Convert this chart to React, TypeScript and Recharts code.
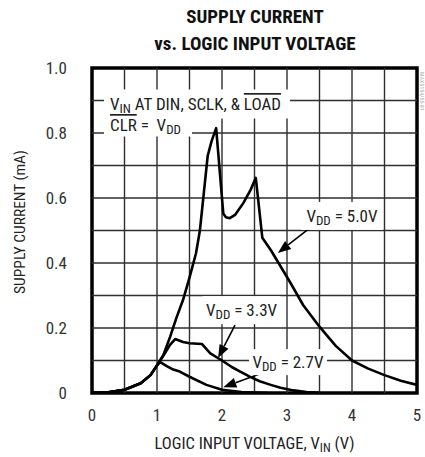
import React from 'react';
import {
  LineChart,
  Line,
  XAxis,
  YAxis,
  ReferenceLine,
  ReferenceArea,
  ReferenceDot,
} from 'recharts';

const FONT = "'Liberation Sans Narrow', 'Arial Narrow', 'Roboto Condensed', sans-serif";

// ---- data ----
const xTicks = [0, 1, 2, 3, 4, 5];
const yTicks = [0, 0.2, 0.4, 0.6, 0.8, 1.0];
const xGrid = [0.5, 1, 1.5, 2, 2.5, 3, 3.5, 4, 4.5];
const yGrid = [0.1, 0.2, 0.3, 0.4, 0.5, 0.6, 0.7, 0.8, 0.9];

const vdd50 = [
  { v: 0, i: 0 },
  { v: 0.25, i: 0.002 },
  { v: 0.5, i: 0.01 },
  { v: 0.75, i: 0.03 },
  { v: 0.9, i: 0.055 },
  { v: 1.0, i: 0.085 },
  { v: 1.1, i: 0.118 },
  { v: 1.2, i: 0.172 },
  { v: 1.3, i: 0.232 },
  { v: 1.4, i: 0.286 },
  { v: 1.5, i: 0.355 },
  { v: 1.6, i: 0.43 },
  { v: 1.66, i: 0.5 },
  { v: 1.72, i: 0.615 },
  { v: 1.78, i: 0.73 },
  { v: 1.84, i: 0.775 },
  { v: 1.91, i: 0.815 },
  { v: 2.02, i: 0.552 },
  { v: 2.06, i: 0.541 },
  { v: 2.12, i: 0.538 },
  { v: 2.2, i: 0.548 },
  { v: 2.33, i: 0.585 },
  { v: 2.44, i: 0.625 },
  { v: 2.52, i: 0.662 },
  { v: 2.62, i: 0.478 },
  { v: 2.75, i: 0.44 },
  { v: 2.9, i: 0.39 },
  { v: 3.05, i: 0.34 },
  { v: 3.25, i: 0.27 },
  { v: 3.5, i: 0.204 },
  { v: 3.75, i: 0.145 },
  { v: 4.0, i: 0.1 },
  { v: 4.25, i: 0.075 },
  { v: 4.5, i: 0.055 },
  { v: 4.75, i: 0.038 },
  { v: 5.0, i: 0.025 },
];

const vdd33 = [
  { v: 0, i: 0 },
  { v: 0.25, i: 0.002 },
  { v: 0.5, i: 0.01 },
  { v: 0.75, i: 0.03 },
  { v: 0.9, i: 0.055 },
  { v: 1.0, i: 0.085 },
  { v: 1.1, i: 0.115 },
  { v: 1.2, i: 0.148 },
  { v: 1.28, i: 0.166 },
  { v: 1.4, i: 0.157 },
  { v: 1.5, i: 0.153 },
  { v: 1.69, i: 0.151 },
  { v: 1.82, i: 0.122 },
  { v: 2.0, i: 0.1 },
  { v: 2.15, i: 0.08 },
  { v: 2.28, i: 0.066 },
  { v: 2.45, i: 0.048 },
  { v: 2.58, i: 0.036 },
  { v: 2.75, i: 0.025 },
  { v: 2.9, i: 0.016 },
  { v: 3.1, i: 0.008 },
  { v: 3.3, i: 0.003 },
  { v: 3.5, i: 0.001 },
];

const vdd27 = [
  { v: 0, i: 0 },
  { v: 0.25, i: 0.002 },
  { v: 0.5, i: 0.01 },
  { v: 0.75, i: 0.03 },
  { v: 0.9, i: 0.055 },
  { v: 1.0, i: 0.085 },
  { v: 1.05, i: 0.095 },
  { v: 1.15, i: 0.083 },
  { v: 1.25, i: 0.072 },
  { v: 1.35, i: 0.066 },
  { v: 1.5, i: 0.05 },
  { v: 1.76, i: 0.025 },
  { v: 2.0, i: 0.01 },
  { v: 2.3, i: 0.003 },
  { v: 2.7, i: 0.0 },
];

// annotation anchors (data coordinates)
const label50 = { v: 3.846, i: 0.545 };
const label33 = { v: 2.3, i: 0.255 };
const label27 = { v: 3.015, i: 0.095 };
const labelTop = { v: 0.277, i: 0.9 };
const arrow50 = [{ x: 3.354, y: 0.508 }, { x: 2.86, y: 0.431 }];
const arrow33 = [{ x: 2.2, y: 0.209 }, { x: 1.94, y: 0.108 }];
const arrow27 = [{ x: 2.63, y: 0.062 }, { x: 2.02, y: 0.018 }];

const GRID = '#2e2e2e';

const Arrow = (p: any) => {
  const { x1, y1, x2, y2 } = p;
  if ([x1, y1, x2, y2].some((n) => typeof n !== 'number' || isNaN(n))) return null;
  const dx = x2 - x1;
  const dy = y2 - y1;
  const len = Math.sqrt(dx * dx + dy * dy);
  const ux = dx / len;
  const uy = dy / len;
  const hl = 13;
  const hw = 5;
  const bx = x2 - ux * hl;
  const by = y2 - uy * hl;
  const pts = `${x2},${y2} ${bx - uy * hw},${by + ux * hw} ${bx + uy * hw},${by - ux * hw}`;
  return (
    <g>
      <line x1={x1} y1={y1} x2={bx} y2={by} stroke="#000" strokeWidth={1.6} />
      <polygon points={pts} fill="#000" />
    </g>
  );
};

const VddLabel = (w: number, h: number, value: string) => (p: any) => {
  const { cx, cy } = p;
  if (typeof cx !== 'number' || typeof cy !== 'number') return null;
  return (
    <g>
      <rect x={cx - w / 2} y={cy - h / 2} width={w} height={h} fill="#fff" />
      <text
        x={cx}
        y={cy + 6}
        textAnchor="middle"
        fontFamily={FONT}
        fontSize={17}
        fill="#222"
      >
        <tspan>V</tspan>
        <tspan fontSize={13} dy={3}>DD</tspan>
        <tspan dy={-3}>{` = ${value}`}</tspan>
      </text>
    </g>
  );
};

const TopLabel = (p: any) => {
  const { cx, cy } = p;
  if (typeof cx !== 'number' || typeof cy !== 'number') return null;
  return (
    <g>
      <rect x={cx - 6} y={cy - 11} width={186} height={29} fill="#fff" />
      <rect x={cx - 6} y={cy + 17} width={88} height={19} fill="#fff" />
      <text x={cx} y={cy + 9.5} fontFamily={FONT} fontSize={17} fill="#222">
        <tspan>V</tspan>
        <tspan fontSize={13} dy={3}>IN</tspan>
        <tspan dy={-3}> AT DIN, SCLK, &amp; </tspan>
        <tspan style={{ textDecoration: 'overline' }}>LOAD</tspan>
      </text>
      <text x={cx} y={cy + 30.5} fontFamily={FONT} fontSize={17} fill="#222">
        <tspan style={{ textDecoration: 'overline' }}>CLR</tspan>
        <tspan>{' =\u00A0\u00A0V'}</tspan>
        <tspan fontSize={13} dy={3}>DD</tspan>
      </text>
    </g>
  );
};

const XLabel = (props: any) => {
  const vb = props.viewBox || {};
  const cx = vb.x + vb.width / 2;
  const y = vb.y + 56;
  return (
    <text x={cx} y={y} textAnchor="middle" fontFamily={FONT} fontSize={16.5} fill="#222">
      <tspan>LOGIC INPUT VOLTAGE, V</tspan>
      <tspan fontSize={12.5} dy={3}>IN</tspan>
      <tspan dy={-3}> (V)</tspan>
    </text>
  );
};

const YLabel = (props: any) => {
  const vb = props.viewBox || {};
  const x = vb.x - 7;
  const y = 222;
  return (
    <text
      x={x}
      y={y}
      textAnchor="middle"
      fontFamily={FONT}
      fontSize={15.5}
      fill="#222"
      transform={`rotate(-90 ${x} ${y})`}
    >
      SUPPLY CURRENT (mA)
    </text>
  );
};

export default function App() {
  return (
    <div style={{ position: 'absolute', left: 0, top: 0, width: 425, height: 457, background: '#fff' }}>
      <svg
        width={425}
        height={60}
        style={{ position: 'absolute', left: 0, top: 0 }}
      >
        <text x={255} y={23} textAnchor="middle" fontFamily={FONT} fontWeight="bold" fontSize={19} fill="#111">
          SUPPLY CURRENT
        </text>
        <text x={255} y={50} textAnchor="middle" fontFamily={FONT} fontWeight="bold" fontSize={19} fill="#111">
          vs. LOGIC INPUT VOLTAGE
        </text>
      </svg>
      <div style={{ position: 'absolute', left: 0, top: 0 }}>
        <LineChart
          width={425}
          height={457}
          margin={{ top: 68, right: 8, bottom: 34, left: 32 }}
        >
          <XAxis
            type="number"
            dataKey="v"
            domain={[0, 5]}
            ticks={xTicks}
            allowDataOverflow
            axisLine={false}
            tickLine={false}
            tickSize={0}
            tickMargin={16}
            height={30}
            tick={{ fontFamily: FONT, fontSize: 17, fill: '#333' }}
            label={<XLabel />}
          />
          <YAxis
            type="number"
            domain={[0, 1]}
            ticks={yTicks}
            allowDataOverflow
            axisLine={false}
            tickLine={false}
            tickSize={0}
            tickMargin={25}
            width={60}
            tickFormatter={(t: number) => (t === 0 ? '0' : t.toFixed(1))}
            tick={{ fontFamily: FONT, fontSize: 17, fill: '#333' }}
            label={<YLabel />}
          />
          {xGrid.map((g) => (
            <ReferenceLine key={`gx${g}`} x={g} stroke={GRID} strokeWidth={1.4} />
          ))}
          {yGrid.map((g) => (
            <ReferenceLine key={`gy${g}`} y={g} stroke={GRID} strokeWidth={1.4} />
          ))}
          <ReferenceDot x={label50.v} y={label50.i} r={1} shape={VddLabel(82, 28, '5.0V')} />
          <ReferenceDot x={label33.v} y={label33.i} r={1} shape={VddLabel(78, 28, '3.3V')} />
          <ReferenceDot x={label27.v} y={label27.i} r={1} shape={VddLabel(78, 26, '2.7V')} />
          <ReferenceDot x={labelTop.v} y={labelTop.i} r={1} shape={TopLabel} />
          <Line
            data={vdd27}
            dataKey="i"
            type="linear"
            dot={false}
            activeDot={false}
            stroke="#000"
            strokeWidth={2.6}
            strokeLinejoin="round"
            isAnimationActive={false}
          />
          <Line
            data={vdd33}
            dataKey="i"
            type="linear"
            dot={false}
            activeDot={false}
            stroke="#000"
            strokeWidth={2.6}
            strokeLinejoin="round"
            isAnimationActive={false}
          />
          <Line
            data={vdd50}
            dataKey="i"
            type="linear"
            dot={false}
            activeDot={false}
            stroke="#000"
            strokeWidth={2.6}
            strokeLinejoin="round"
            isAnimationActive={false}
          />
          <ReferenceArea x1={0} x2={5} y1={0} y2={1} fill="none" fillOpacity={0} stroke="#000" strokeWidth={3.5} />
          <ReferenceLine segment={arrow50} shape={Arrow} />
          <ReferenceLine segment={arrow33} shape={Arrow} />
          <ReferenceLine segment={arrow27} shape={Arrow} />
        </LineChart>
      </div>
      <svg width={425} height={200} style={{ position: 'absolute', left: 0, top: 0, pointerEvents: 'none' }}>
        <text
          x={419.5}
          y={72}
          fontFamily={FONT}
          fontSize={6}
          fill="#aaa"
          transform="rotate(90 419.5 72)"
        >
          MAX5154/55-01
        </text>
      </svg>
    </div>
  );
}
